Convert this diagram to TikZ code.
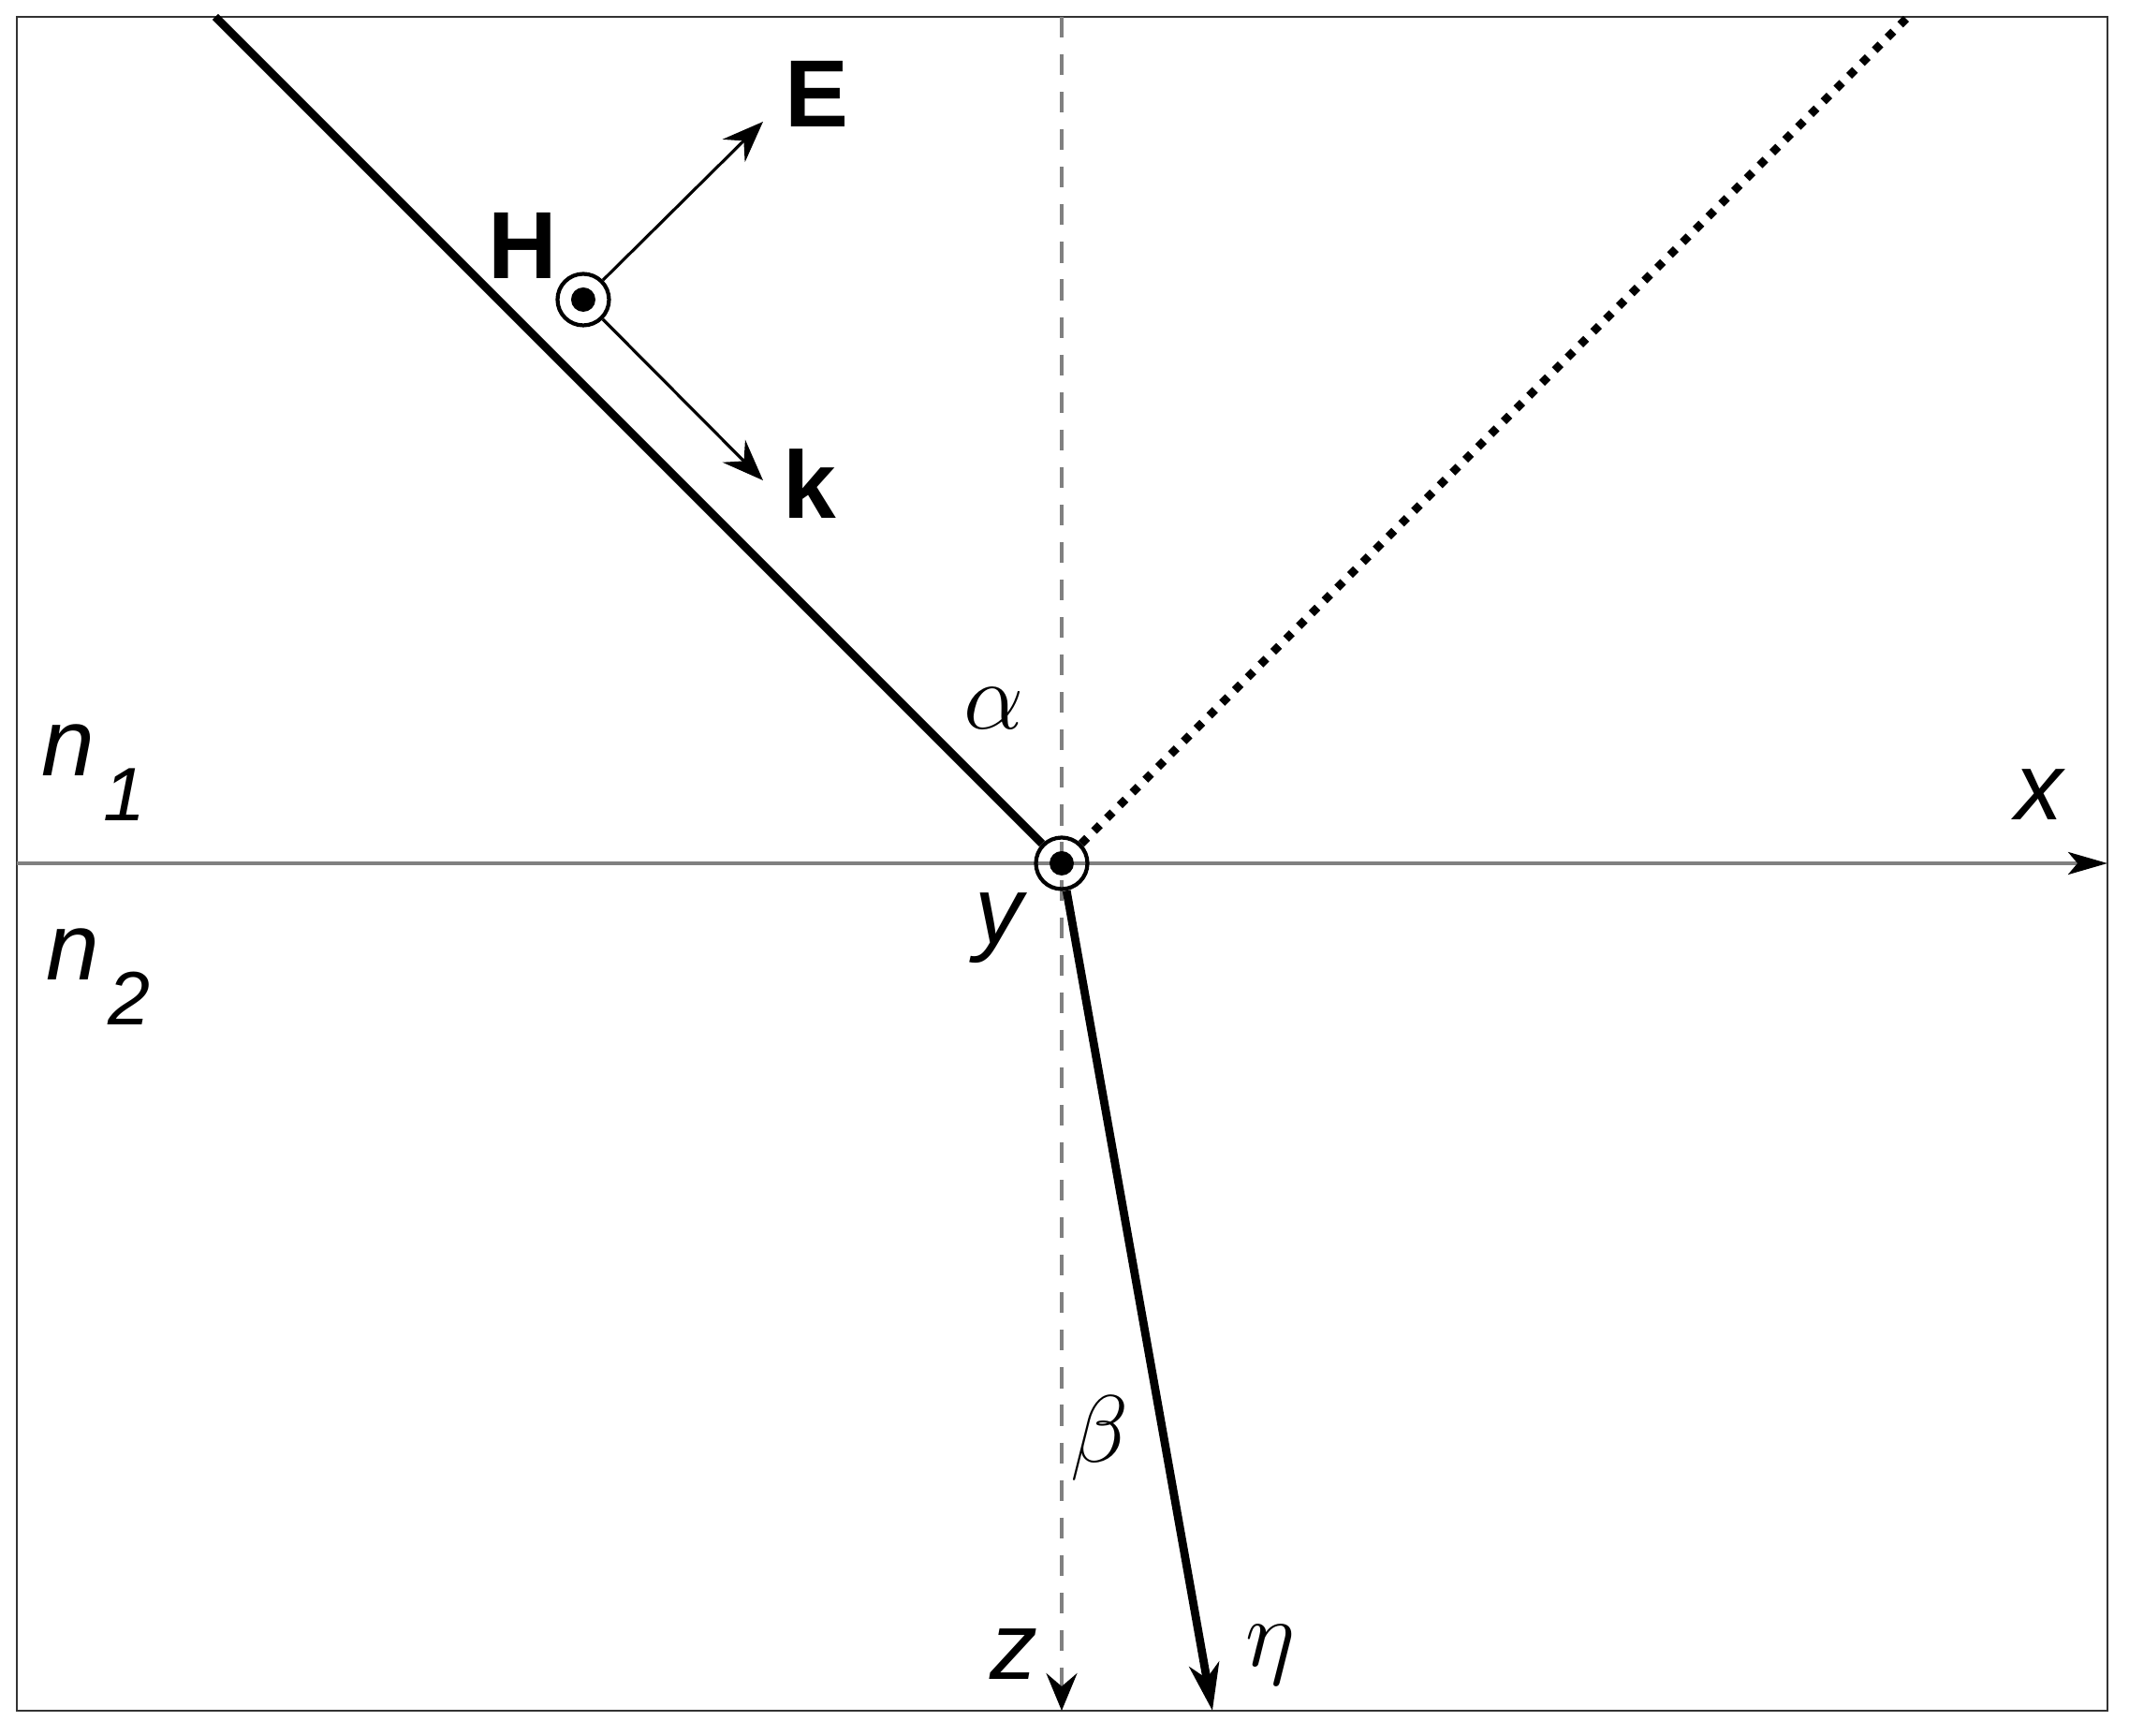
\RequirePackage{fix-cm}
\documentclass[tikz,border=0pt]{standalone}
\usepackage{amsmath}
\usepackage{fontspec}
\setmainfont{Liberation Sans}
\usetikzlibrary{arrows.meta}
\usetikzlibrary{calc}

\begin{document}
\begin{tikzpicture}[font=\fontsize{29}{34}\selectfont,
  ray/.style={line width=2.5pt},
  axis/.style={gray, line width=1.1pt},
  vec/.style={line width=0.9pt, -{Stealth[length=0.44cm, width=0.34cm, inset=0.15cm]}},
  dot/.style={circle, draw, line width=1.2pt, minimum size=0.55cm, inner sep=0pt},
  lbl/.style={inner sep=0pt}]
\useasboundingbox (-11.34,-9.32) rectangle (11.40,9.22);
\draw[line width=0.8pt, black!80] (-11.16,-9.05) rectangle (11.17,9.04);

% axes
\coordinate (xl) at (-11.16,0);
\coordinate (xr) at (11.17,0);
\coordinate (zt) at (0,9.04);
\coordinate (zb) at (0,-9.05);
\draw[axis, -{Stealth[black, length=0.42cm, width=0.24cm, inset=0.1cm]}] (xl) -- (xr);
\draw[axis, dash pattern=on 6.3pt off 5.1pt,
  -{Stealth[black, length=0.4cm, width=0.33cm, inset=0.14cm]}] (zt) -- (zb);

% rays
\node[dot] (O) at (0,0) {};
\fill (O) circle (0.13);
\coordinate (inc) at (-9.04,9.04);
\coordinate (refl) at (9.04,9.04);
\coordinate (refr) at (1.61,-9.05);
\draw[ray] (inc) -- (O);
\draw[ray, dash pattern=on 2.5pt off 3pt] (O) -- (refl);
\draw[ray, -{Stealth[length=0.5cm, width=0.32cm, inset=0.15cm]}] (O) -- (refr);

% field vectors
\node[dot] (H) at (-5.11,6.02) {};
\fill (H) circle (0.13);
\coordinate (Etip) at (-3.19,7.92);
\coordinate (ktip) at (-3.19,4.09);
\draw[vec] (H) -- (Etip);
\draw[vec] (H) -- (ktip);

% labels
\node[lbl, font=\fontsize{29}{34}\selectfont\bfseries] (Hlab) at (-5.76,6.60) {H};
\node[lbl, font=\fontsize{29}{34}\selectfont\bfseries] (Elab) at (-2.62,8.22) {E};
\node[lbl, font=\fontsize{29}{34}\selectfont\bfseries] (klab) at (-2.69,4.05) {k};
\node[lbl] (alab) at (-0.72,1.65) {$\alpha$};
\node[lbl] (blab) at (0.40,-6.14) {$\beta$};
\node[lbl] (elab) at (2.23,-8.45) {$\eta$};
\node[lbl, font=\fontsize{29}{34}\selectfont\itshape] (xlab) at (10.44,0.73) {x};
\node[lbl, font=\fontsize{29}{34}\selectfont\itshape] (ylab) at (-0.67,-0.69) {y};
\node[lbl, font=\fontsize{29}{34}\selectfont\itshape] (zlab) at (-0.51,-8.45) {z};
\node[lbl, font=\fontsize{29}{34}\selectfont\itshape] (n1) at (-10.34,0.97)
  {n\hspace{0.1em}\raisebox{-0.47em}{\fontsize{23}{27}\selectfont 1}};
\node[lbl, font=\fontsize{29}{34}\selectfont\itshape] (n2) at (-10.29,-1.21)
  {n\hspace{0.1em}\raisebox{-0.47em}{\fontsize{23}{27}\selectfont 2}};

\end{tikzpicture}
\end{document}
